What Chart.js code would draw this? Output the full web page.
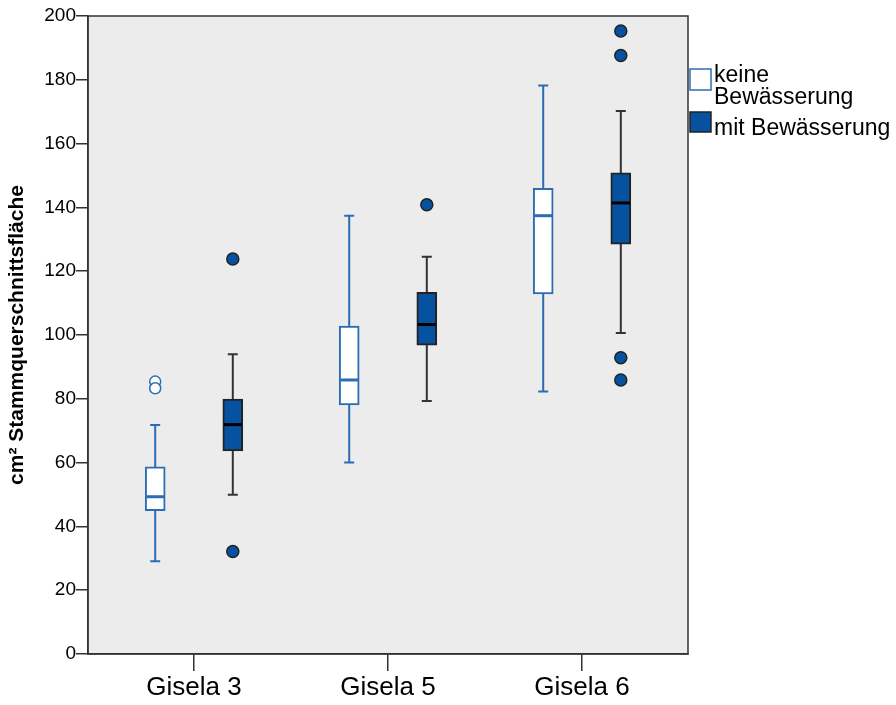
<!DOCTYPE html>
<html>
<head>
<meta charset="utf-8">
<script src="https://cdn.jsdelivr.net/npm/chart.js@4.4.0/dist/chart.umd.min.js"></script>
<style>
  body { margin: 0; background: #ffffff; }
  #wrap { width: 896px; height: 705px; }
</style>
</head>
<body>
<div id="wrap"><canvas id="myChart" width="896" height="705"></canvas></div>
<script>
const categories = ["Gisela 3", "Gisela 5", "Gisela 6"];
const seriesNames = ["keine Bewässerung", "mit Bewässerung"];

// keine Bewässerung
const keineMin = [29.1, 60.0, 82.3];
const keineQ1 = [44.9, 78.1, 112.9];
const keineMedian = [49.3, 85.9, 137.4];
const keineQ3 = [58.7, 102.8, 146.0];
const keineMax = [71.8, 137.4, 178.2];
const keineOutliers = [[85.4, 83.3], [], []];

// mit Bewässerung
const mitMin = [49.9, 79.3, 100.6];
const mitQ1 = [63.7, 96.8, 128.5];
const mitMedian = [71.9, 103.3, 141.4];
const mitQ3 = [79.9, 113.4, 150.8];
const mitMax = [94.0, 124.5, 170.2];
const mitOutliers = [[123.8, 32.1], [140.8], [195.3, 187.6, 92.9, 85.9]];

const yMin = 0;
const yMax = 200;
const yStep = 20;

const blueLine = "#2b6cb5";
const blueFill = "#0652a0";
const darkLine = "#222222";
const FONT = "'Liberation Sans', Arial, sans-serif";

const groupOffset = 0.2; // each box sits this far left/right of its category

const keineX = (i) => i + 1 - groupOffset;
const mitX = (i) => i + 1 + groupOffset;

const boxData = (q1, q3, posFn) => q1.map((v, i) => ({ x: posFn(i), y: [v, q3[i]] }));
const outlierData = (list, posFn) => {
  let pts = [];
  list.forEach((vals, i) => vals.forEach((v) => pts.push({ x: posFn(i), y: v })));
  return pts;
};

const groups = [
  { min: keineMin, med: keineMedian, max: keineMax, pos: keineX, whisker: blueLine, median: blueLine },
  { min: mitMin, med: mitMedian, max: mitMax, pos: mitX, whisker: "#333333", median: "#000000" },
];

const boxExtras = {
  id: "boxExtras",
  beforeDraw(chart) {
    const { ctx, chartArea } = chart;
    ctx.save();
    ctx.fillStyle = "#ececec";
    ctx.fillRect(chartArea.left, chartArea.top, chartArea.width, chartArea.height);
    ctx.restore();
  },
  beforeDatasetsDraw(chart) {
    const { ctx } = chart;
    const xs = chart.scales.x;
    const ys = chart.scales.y;
    ctx.save();
    ctx.lineWidth = 2;
    groups.forEach((g) => {
      ctx.strokeStyle = g.whisker;
      g.min.forEach((lo, i) => {
        const px = xs.getPixelForValue(g.pos(i));
        const yLo = ys.getPixelForValue(lo);
        const yHi = ys.getPixelForValue(g.max[i]);
        ctx.beginPath();
        ctx.moveTo(px, yLo);
        ctx.lineTo(px, yHi);
        ctx.moveTo(px - 5, yLo);
        ctx.lineTo(px + 5, yLo);
        ctx.moveTo(px - 5, yHi);
        ctx.lineTo(px + 5, yHi);
        ctx.stroke();
      });
    });
    ctx.restore();
  },
  afterDatasetsDraw(chart) {
    const { ctx, chartArea } = chart;
    const xs = chart.scales.x;
    const ys = chart.scales.y;
    ctx.save();
    // medians
    ctx.lineWidth = 3;
    groups.forEach((g) => {
      ctx.strokeStyle = g.median;
      g.med.forEach((m, i) => {
        const px = xs.getPixelForValue(g.pos(i));
        const py = ys.getPixelForValue(m);
        ctx.beginPath();
        ctx.moveTo(px - 9, py);
        ctx.lineTo(px + 9, py);
        ctx.stroke();
      });
    });
    // frame
    ctx.lineWidth = 1.5;
    ctx.strokeStyle = "#333333";
    ctx.strokeRect(chartArea.left, chartArea.top, chartArea.width, chartArea.height);

    // legend
    const lx = chartArea.right + 2;
    ctx.lineWidth = 1.5;
    ctx.fillStyle = "#ffffff";
    ctx.strokeStyle = blueLine;
    ctx.fillRect(lx, 69, 21, 21);
    ctx.strokeRect(lx, 69, 21, 21);
    ctx.fillStyle = blueFill;
    ctx.strokeStyle = darkLine;
    ctx.fillRect(lx, 112, 21, 20);
    ctx.strokeRect(lx, 112, 21, 20);

    ctx.fillStyle = "#000000";
    ctx.font = "23px " + FONT;
    ctx.textBaseline = "alphabetic";
    ctx.textAlign = "left";
    const firstParts = seriesNames[0].split(" ");
    ctx.fillText(firstParts[0], lx + 24, 82);
    ctx.fillText(firstParts[1], lx + 24, 104);
    ctx.fillText(seriesNames[1], lx + 24, 135);
    ctx.restore();
  },
};

const ctx = document.getElementById("myChart").getContext("2d");
new Chart(ctx, {
  data: {
    datasets: [
      {
        type: "bar",
        label: seriesNames[0],
        data: boxData(keineQ1, keineQ3, keineX),
        backgroundColor: "#ffffff",
        borderColor: blueLine,
        borderWidth: 2,
        borderSkipped: false,
        barThickness: 20,
        grouped: false,
      },
      {
        type: "bar",
        label: seriesNames[1],
        data: boxData(mitQ1, mitQ3, mitX),
        backgroundColor: blueFill,
        borderColor: darkLine,
        borderWidth: 2,
        borderSkipped: false,
        barThickness: 20,
        grouped: false,
      },
      {
        type: "scatter",
        label: "keine outliers",
        data: outlierData(keineOutliers, keineX),
        pointRadius: 5.5,
        pointBackgroundColor: "#ffffff",
        pointBorderColor: blueLine,
        pointBorderWidth: 1.5,
      },
      {
        type: "scatter",
        label: "mit outliers",
        data: outlierData(mitOutliers, mitX),
        pointRadius: 6,
        pointBackgroundColor: blueFill,
        pointBorderColor: darkLine,
        pointBorderWidth: 1.5,
      },
    ],
  },
  options: {
    responsive: false,
    animation: false,
    layout: {
      padding: { top: 16, right: 208, left: 0, bottom: 0 },
    },
    plugins: {
      legend: { display: false },
      tooltip: { enabled: false },
    },
    scales: {
      x: {
        type: "linear",
        min: 0.4536,
        max: 3.5464,
        offset: false,
        afterBuildTicks: (scale) => {
          scale.ticks = categories.map((c, i) => ({ value: i + 1 }));
        },
        afterFit: (scale) => {
          scale.height = 51;
        },
        ticks: {
          color: "#000000",
          font: { family: FONT, size: 26 },
          padding: 1,
          maxRotation: 0,
          autoSkip: false,
          callback: (v) => categories[v - 1],
        },
        grid: {
          offset: false,
          drawOnChartArea: false,
          drawTicks: true,
          tickLength: 17,
          color: "#333333",
          lineWidth: 1.5,
        },
        border: { display: true, color: "#333333", width: 1.5 },
      },
      y: {
        type: "linear",
        min: yMin,
        max: yMax,
        afterFit: (scale) => {
          scale.width = 88;
        },
        ticks: {
          stepSize: yStep,
          color: "#000000",
          font: { family: FONT, size: 19 },
          padding: 0,
        },
        grid: {
          drawOnChartArea: false,
          drawTicks: true,
          tickLength: 12,
          color: "#333333",
          lineWidth: 1.5,
        },
        border: { display: true, color: "#333333", width: 1.5 },
        title: {
          display: true,
          text: "cm² Stammquerschnittsfläche",
          color: "#000000",
          font: { family: FONT, size: 21, weight: "bold" },
          padding: { top: 5, bottom: 0 },
        },
      },
    },
  },
  plugins: [boxExtras],
});
</script>
</body>
</html>
